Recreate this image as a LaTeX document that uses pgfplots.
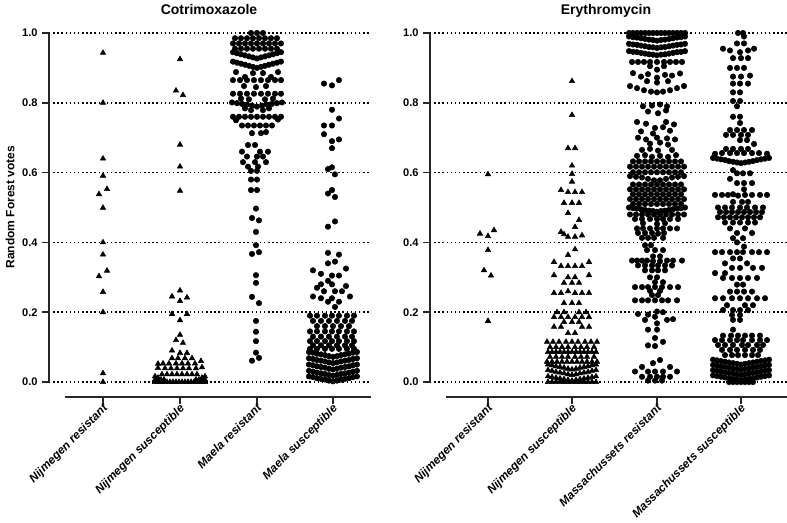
\documentclass[border=0pt]{standalone}
\usepackage{pgfplots}
\pgfplotsset{compat=1.18}
\usepackage{fontspec}
\setmainfont{Liberation Sans}
\pgfplotsset{
 swarm/.style={
  scale only axis, height=273pt, anchor=south west,
  ymin=-0.043, ymax=1, clip=false,
  axis lines*=left, axis line style={draw=none},
  ytick={0,0.2,0.4,0.6,0.8,1},
  yticklabel style={font=\bfseries\fontsize{8.3}{9}\selectfont, /pgf/number format/.cd, fixed, fixed zerofill, precision=1, assume math mode=true},
  xticklabel style={font=\bfseries\itshape\fontsize{8.8}{10}\selectfont, rotate=45, anchor=north east, inner sep=1pt, yshift=2pt, xshift=1pt},
  tick style={line width=1.1pt, black!85},
  major tick length=5pt,
  tick align=outside,
  ymajorgrids, major grid style={line width=1.1pt, dotted, black},
 },
 tri/.style={only marks, mark=triangle*, mark size=2.35pt, black, mark options={solid}},
 dot/.style={only marks, mark=*, mark size=2.05pt, black, mark options={solid}},
}
\begin{document}
\begin{tikzpicture}[x=0.75pt,y=0.75pt]
\useasboundingbox (0,0) rectangle (787,522);
% ---------------- Left panel ----------------
\begin{axis}[swarm, at={(36.75pt,93.75pt)}, width=241.7pt, xmin=49, xmax=371.3,
  xtick={103,180,257,333},
  xticklabels={Nijmegen resistant, Nijmegen susceptible, Maela resistant, Maela susceptible}]
\draw[line width=1.6pt, black!85] (axis cs:49,0) -- (axis cs:49,1);
\draw[line width=1.6pt, black!85] (axis cs:65,-0.043) -- (axis cs:371.3,-0.043);
% Nijmegen resistant
\addplot[tri] coordinates {(103,0.943)(103,0.800)(103,0.640)(103,0.591)(99,0.538)(107,0.553)(103,0.499)(103,0.400)(103,0.365)(107,0.319)(99,0.303)(103,0.258)(103,0.200)(103,0.025)(103,0.000)};
% Nijmegen susceptible
\addplot[tri] coordinates {(180,0.925)(176,0.835)(183,0.822)(180,0.680)(180,0.617)(180,0.548)
(180,0.262)(172,0.245)(187,0.242)(180,0.232)(172,0.195)(187,0.195)(180,0.177)(180,0.135)(176,0.120)(183,0.112)(172,0.090)(180,0.083)(187,0.083)
(172,0.068)(178,0.068)(185,0.068)(192,0.068)(201,0.060)
(158,0.052)(163,0.053)(169,0.053)(176,0.053)(182,0.053)(188,0.053)(195,0.053)
(158,0.040)(165,0.039)(171,0.039)(177,0.039)(183,0.039)(189,0.039)(196,0.039)(202,0.042)
(162,0.022)(167,0.022)(172,0.022)(177,0.022)(182,0.022)(187,0.022)(192,0.022)(197,0.022)
(155,0.016)(158,0.012)(202,0.012)(205,0.016)
(155,0.007)(158,0.007)(161,0.007)(164,0.007)(196,0.007)(199,0.007)(202,0.007)(205,0.007)
(155,0)(158,0)(161,0)(164,0)(167,0)(170,0)(173,0)(176,0)(179,0)(182,0)(185,0)(188,0)(191,0)(194,0)(197,0)(200,0)(203,0)(205,0)};
% Maela resistant
\addplot[dot] coordinates {(251,1.0)(257,1.0)(263,1.0)
(235,0.985)(241,0.985)(247,0.985)(253,0.985)(259,0.985)(265,0.985)(271,0.985)(277,0.985)
(233,0.970)(239,0.970)(245,0.970)(251,0.970)(257,0.970)(263,0.970)(269,0.970)(275,0.970)(281,0.970)
(235,0.955)(241,0.955)(247,0.955)(253,0.955)(259,0.955)(265,0.955)(271,0.955)(277,0.955)
(233,0.945)(237,0.942)(241,0.939)(245,0.936)(249,0.933)(253,0.930)(257,0.927)(261,0.930)(265,0.933)(269,0.936)(273,0.939)(277,0.942)(281,0.945)
(233,0.918)(237,0.915)(241,0.912)(245,0.909)(249,0.906)(253,0.903)(257,0.900)(261,0.903)(265,0.906)(269,0.909)(273,0.912)(277,0.915)(281,0.918)
(236,0.888)(245,0.874)(253,0.885)(263,0.885)(271,0.874)(278,0.888)
(233,0.865)(240,0.865)(247,0.865)(254,0.865)(261,0.865)(268,0.865)(275,0.865)(281,0.865)
(244,0.848)(256,0.845)(266,0.848)
(233,0.826)(240,0.826)(247,0.826)(254,0.826)(261,0.826)(268,0.826)(275,0.826)(281,0.826)
(241,0.812)(249,0.810)(265,0.810)(273,0.812)
(232,0.801)(237,0.799)(242,0.797)(247,0.795)(252,0.792)(257,0.789)(262,0.792)(267,0.795)(272,0.797)(277,0.799)(282,0.801)
(245,0.784)(251,0.779)(263,0.779)(269,0.784)
(233,0.760)(239,0.760)(245,0.760)(251,0.760)(257,0.760)(263,0.760)(269,0.760)(275,0.760)(281,0.760)
(236,0.750)(278,0.752)
(242,0.735)(248,0.735)(254,0.735)(260,0.735)(266,0.735)(272,0.735)
(252,0.713)(261,0.713)(266,0.716)
(248,0.679)(255,0.679)
(242,0.660)(260,0.660)(268,0.660)
(247,0.646)(257,0.646)(263,0.646)
(243,0.630)(255,0.630)(266,0.630)
(248,0.617)(258,0.617)
(251,0.605)(257,0.605)
(251,0.580)(257,0.580)
(251,0.550)(257,0.550)
(256,0.497)(252,0.470)(259,0.463)(256,0.430)(256,0.392)(252,0.367)(259,0.372)
(256,0.306)(256,0.284)(252,0.244)(259,0.226)(256,0.175)(256,0.144)(256,0.117)(256,0.084)(252,0.061)(259,0.069)};
% Maela susceptible
\addplot[dot] coordinates {(339,0.865)(324,0.855)(332,0.850)(332,0.780)(339,0.755)(324,0.735)(332,0.735)(324,0.710)(339,0.695)(332,0.690)(332,0.670)
(332,0.615)(328,0.610)(335,0.595)(332,0.550)(328,0.540)(335,0.530)(335,0.460)(328,0.445)
(328,0.370)(339,0.365)(335,0.345)(328,0.340)(346,0.325)(313,0.320)(321,0.310)(332,0.305)(339,0.305)
(328,0.290)(321,0.280)(332,0.280)(346,0.275)(317,0.270)(324,0.260)(335,0.260)(342,0.260)
(313,0.245)(350,0.245)(321,0.240)(332,0.240)(328,0.230)(339,0.230)(335,0.215)
(310,0.190)(317,0.190)(325,0.190)(332,0.190)(339,0.190)(347,0.190)(354,0.190)
(313,0.175)(321,0.175)(329,0.175)(337,0.175)(345,0.175)(352,0.175)
(317,0.160)(325,0.160)(333,0.160)(341,0.160)(349,0.160)
(310,0.145)(317,0.145)(325,0.145)(332,0.145)(339,0.145)(347,0.145)(354,0.145)
(313,0.130)(321,0.130)(329,0.130)(337,0.130)(345,0.130)(352,0.130)
(310,0.117)(317,0.117)(325,0.117)(332,0.117)(339,0.117)(347,0.117)(354,0.117)
(313,0.105)(321,0.105)(329,0.105)(337,0.105)(345,0.105)(352,0.105)
(310,0.095)(317,0.095)(325,0.095)(332,0.095)(339,0.095)(347,0.095)(354,0.095)
(309,0.086)(313,0.084)(317,0.081)(321,0.079)(325,0.077)(329,0.074)(333,0.072)(337,0.074)(341,0.077)(345,0.079)(349,0.081)(353,0.084)(357,0.086)
(309,0.068)(313,0.066)(317,0.063)(321,0.061)(325,0.059)(329,0.056)(333,0.054)(337,0.056)(341,0.059)(345,0.061)(349,0.063)(353,0.066)(357,0.068)
(309,0.050)(313,0.048)(317,0.045)(321,0.043)(325,0.041)(329,0.038)(333,0.036)(337,0.038)(341,0.041)(345,0.043)(349,0.045)(353,0.048)(357,0.050)
(309,0.032)(313,0.030)(317,0.027)(321,0.025)(325,0.023)(329,0.020)(333,0.018)(337,0.020)(341,0.023)(345,0.025)(349,0.027)(353,0.030)(357,0.032)
(309,0.016)(313,0.014)(317,0.011)(321,0.009)(325,0.007)(329,0.004)(333,0.002)(337,0.004)(341,0.007)(345,0.009)(349,0.011)(353,0.014)(357,0.016)};
\end{axis}
% ---------------- Right panel ----------------
\begin{axis}[swarm, at={(322.5pt,93.75pt)}, width=267.75pt, xmin=430, xmax=787,
  xtick={488,572,657,741},
  xticklabels={Nijmegen resistant, Nijmegen susceptible, Massachussets resistant, Massachussets susceptible}]
\draw[line width=1.6pt, black!85] (axis cs:430,0) -- (axis cs:430,1);
\draw[line width=1.6pt, black!85] (axis cs:446,-0.043) -- (axis cs:787,-0.043);
% Nijmegen resistant
\addplot[tri] coordinates {(488,0.595)(494,0.435)(480,0.425)(488,0.418)(488,0.378)(484,0.320)(491,0.305)(488,0.175)};
% Nijmegen susceptible
\addplot[tri] coordinates {(572,0.862)(572,0.765)(568,0.670)(575,0.670)(572,0.620)(572,0.596)(572,0.574)
(561,0.550)(568,0.544)(575,0.544)(582,0.544)(564,0.513)(572,0.513)(579,0.513)(568,0.484)(579,0.464)(575,0.444)
(561,0.430)(564,0.423)(568,0.416)(575,0.416)(582,0.420)(575,0.380)(568,0.364)
(554,0.344)(589,0.344)(561,0.332)(568,0.332)(575,0.332)(582,0.332)
(554,0.306)(589,0.306)(568,0.300)(575,0.300)(564,0.284)(572,0.284)(579,0.284)
(554,0.255)(561,0.255)(568,0.260)(575,0.255)(582,0.255)(589,0.255)
(564,0.226)(572,0.226)(579,0.226)(557,0.200)(564,0.200)(579,0.200)(586,0.200)
(554,0.186)(561,0.186)(568,0.186)(575,0.186)(582,0.186)(589,0.186)
(564,0.172)(572,0.172)(579,0.172)(554,0.158)(561,0.158)(582,0.158)(589,0.158)(568,0.140)(575,0.140)
(547,0.115)(553,0.115)(559,0.115)(566,0.115)(572,0.115)(578,0.115)(585,0.115)(591,0.115)(597,0.115)
(550,0.100)(556,0.100)(562,0.100)(568,0.100)(575,0.100)(581,0.100)(587,0.100)(594,0.100)
(548,0.086)(552,0.086)(556,0.086)(560,0.086)(564,0.086)(568,0.086)(572,0.086)(576,0.086)(580,0.086)(584,0.086)(588,0.086)(592,0.086)(596,0.086)
(550,0.072)(556,0.072)(562,0.072)(568,0.072)(575,0.072)(581,0.072)(587,0.072)(594,0.072)
(547,0.058)(552,0.058)(557,0.058)(562,0.058)(567,0.058)(572,0.058)(577,0.058)(582,0.058)(587,0.058)(592,0.058)(597,0.058)
(548,0.050)(552,0.048)(556,0.045)(560,0.043)(564,0.041)(568,0.038)(572,0.036)(576,0.038)(580,0.041)(584,0.043)(588,0.045)(592,0.048)(596,0.050)
(548,0.034)(552,0.032)(556,0.029)(560,0.027)(564,0.025)(568,0.022)(572,0.020)(576,0.022)(580,0.025)(584,0.027)(588,0.029)(592,0.032)(596,0.034)
(548,0.016)(552,0.014)(556,0.012)(560,0.010)(564,0.008)(568,0.006)(572,0.004)(576,0.006)(580,0.008)(584,0.010)(588,0.012)(592,0.014)(596,0.016)
(548,0)(552,0)(556,0)(560,0)(564,0)(568,0)(572,0)(576,0)(580,0)(584,0)(588,0)(592,0)(596,0)};
% Massachussets resistant
\addplot[dot] coordinates {
(629,1)(633,1)(637,1)(641,1)(645,1)(649,1)(653,1)(657,1)(661,1)(665,1)(669,1)(673,1)(677,1)(681,1)(685,1)
(629,0.990)(633,0.988)(637,0.987)(641,0.985)(645,0.983)(649,0.981)(653,0.980)(657,0.978)(661,0.980)(665,0.981)(669,0.983)(673,0.985)(677,0.987)(681,0.988)(685,0.990)
(629,0.969)(633,0.967)(637,0.966)(641,0.964)(645,0.962)(649,0.960)(653,0.959)(657,0.957)(661,0.959)(665,0.960)(669,0.962)(673,0.964)(677,0.966)(681,0.967)(685,0.969)
(629,0.948)(633,0.946)(637,0.945)(641,0.943)(645,0.941)(649,0.939)(653,0.938)(657,0.936)(661,0.938)(665,0.939)(669,0.941)(673,0.943)(677,0.945)(681,0.946)(685,0.948)
(632,0.917)(638,0.917)(644,0.917)(650,0.917)(657,0.917)(664,0.917)(670,0.917)(676,0.917)(682,0.917)
(650,0.905)(664,0.905)(657,0.895)
(633,0.885)(641,0.875)(648,0.882)(657,0.872)(665,0.880)(672,0.878)(680,0.884)
(647,0.862)(668,0.862)(657,0.858)
(630,0.848)(637,0.842)(644,0.836)(651,0.832)(657,0.830)(663,0.832)(670,0.836)(677,0.842)(684,0.848)
(643,0.790)(652,0.792)(660,0.795)(667,0.790)(648,0.775)(658,0.770)(666,0.778)
(637,0.745)(646,0.740)(666,0.745)(674,0.738)(655,0.728)(663,0.730)
(641,0.718)(653,0.712)(670,0.720)
(638,0.700)(646,0.695)(657,0.700)(667,0.698)(675,0.695)
(650,0.683)(660,0.686)(668,0.680)
(642,0.665)(650,0.668)(658,0.663)(672,0.665)
(637,0.648)(645,0.650)(652,0.645)(660,0.648)(668,0.645)(676,0.650)
(633,0.632)(639,0.632)(645,0.632)(651,0.632)(657,0.632)(663,0.632)(669,0.632)(675,0.632)(681,0.632)
(630,0.617)(636,0.617)(642,0.617)(648,0.617)(654,0.617)(660,0.617)(666,0.617)(672,0.617)(678,0.617)(684,0.617)
(633,0.601)(639,0.601)(645,0.601)(651,0.601)(657,0.601)(663,0.601)(669,0.601)(675,0.601)(681,0.601)
(630,0.590)(636,0.588)(642,0.586)(648,0.582)(654,0.578)(660,0.578)(666,0.582)(672,0.586)(678,0.588)(684,0.590)
(633,0.566)(639,0.566)(645,0.566)(651,0.566)(657,0.566)(663,0.566)(669,0.566)(675,0.566)(681,0.566)
(630,0.552)(636,0.552)(642,0.552)(648,0.552)(654,0.552)(660,0.552)(666,0.552)(672,0.552)(678,0.552)(684,0.552)
(633,0.538)(639,0.538)(645,0.538)(651,0.538)(657,0.538)(663,0.538)(669,0.538)(675,0.538)(681,0.538)
(630,0.524)(636,0.524)(642,0.524)(648,0.524)(654,0.524)(660,0.524)(666,0.524)(672,0.524)(678,0.524)(684,0.524)
(633,0.510)(639,0.510)(645,0.510)(651,0.510)(657,0.510)(663,0.510)(669,0.510)(675,0.510)(681,0.510)
(629,0.500)(633,0.498)(637,0.497)(641,0.495)(645,0.493)(649,0.491)(653,0.490)(657,0.488)(661,0.490)(665,0.491)(669,0.493)(673,0.495)(677,0.497)(681,0.498)(685,0.500)
(630,0.480)(636,0.480)(642,0.480)(648,0.480)(654,0.480)(660,0.480)(666,0.480)(672,0.480)(678,0.480)(684,0.480)
(635,0.467)(642,0.467)(650,0.467)(657,0.467)(663,0.467)(670,0.467)(678,0.467)
(643,0.455)(657,0.453)(665,0.455)
(637,0.440)(643,0.440)(650,0.440)(657,0.440)(663,0.440)(670,0.440)(677,0.440)
(638,0.427)(645,0.427)(652,0.427)(658,0.425)(664,0.427)
(642,0.413)(648,0.413)(654,0.413)(663,0.413)
(645,0.392)(651,0.392)(647,0.378)(655,0.378)(663,0.378)(653,0.360)(660,0.360)
(632,0.348)(637,0.348)(642,0.348)(647,0.348)(653,0.346)(660,0.346)(667,0.348)(673,0.348)(682,0.348)
(638,0.334)(645,0.334)(652,0.334)(658,0.334)(665,0.334)(672,0.334)
(645,0.320)(652,0.320)(658,0.320)(665,0.320)
(650,0.300)(657,0.300)(655,0.286)(663,0.286)
(635,0.272)(642,0.272)(648,0.272)(655,0.272)(662,0.272)(670,0.272)(678,0.272)
(650,0.261)(660,0.261)(652,0.249)(658,0.249)
(635,0.234)(642,0.234)(648,0.234)(655,0.234)(662,0.234)(668,0.234)(677,0.234)
(657,0.202)(663,0.200)(638,0.195)(648,0.193)(655,0.187)(645,0.178)(667,0.178)(673,0.180)(657,0.168)
(648,0.150)(657,0.150)(655,0.126)(663,0.115)(648,0.105)(655,0.103)
(660,0.063)(653,0.054)(642,0.043)(670,0.043)
(635,0.030)(648,0.030)(655,0.030)(663,0.030)(677,0.030)
(642,0.015)(650,0.015)(657,0.015)(663,0.015)(670,0.015)
(648,0.004)(655,0.004)(662,0.004)};
% Massachussets susceptible
\addplot[dot] coordinates {(738,1.0)(743,1.0)(744,0.990)(737,0.970)(744,0.970)
(723,0.955)(754,0.955)(730,0.950)(748,0.950)(740,0.945)
(733,0.928)(741,0.928)(748,0.928)(730,0.900)(737,0.900)(744,0.900)
(733,0.875)(741,0.875)(750,0.878)(733,0.855)(740,0.855)(748,0.855)
(733,0.830)(740,0.830)(733,0.805)(740,0.805)(737,0.790)
(733,0.760)(740,0.760)(740,0.742)
(730,0.722)(737,0.722)(744,0.722)(752,0.722)
(726,0.708)(733,0.708)(741,0.708)(748,0.708)
(740,0.693)(747,0.693)(754,0.682)
(726,0.668)(733,0.668)(741,0.668)(748,0.668)
(715,0.654)(722,0.656)(730,0.656)(737,0.656)(744,0.656)(752,0.656)(759,0.656)(767,0.654)
(713,0.642)(717,0.640)(721,0.638)(725,0.636)(729,0.633)(733,0.631)(737,0.629)(741,0.627)(745,0.629)(749,0.631)(753,0.633)(757,0.636)(761,0.638)(765,0.640)(769,0.642)
(733,0.607)(737,0.598)(743,0.598)(750,0.598)(730,0.582)(737,0.570)(744,0.570)(752,0.570)(744,0.552)
(715,0.536)(722,0.536)(728,0.536)(733,0.538)(738,0.534)(745,0.536)(752,0.536)(760,0.536)(767,0.536)
(733,0.516)(742,0.516)(748,0.516)
(718,0.500)(725,0.500)(732,0.500)(740,0.500)(747,0.500)(755,0.500)(763,0.500)
(720,0.487)(726,0.487)(732,0.487)(738,0.487)(744,0.487)(750,0.487)(756,0.487)(762,0.487)
(718,0.472)(724,0.472)(730,0.472)(736,0.472)(742,0.472)(748,0.472)(754,0.472)(760,0.472)
(725,0.457)(733,0.457)(740,0.457)(748,0.457)(755,0.457)
(730,0.440)(745,0.440)(737,0.427)(752,0.427)(733,0.412)(743,0.412)(737,0.400)(744,0.388)
(715,0.372)(722,0.372)(730,0.372)(737,0.372)(743,0.372)(752,0.372)(759,0.372)(767,0.372)
(733,0.354)(740,0.354)(725,0.340)(747,0.340)(732,0.327)(740,0.327)(753,0.327)(762,0.327)(715,0.312)(725,0.312)
(723,0.298)(732,0.298)(740,0.298)(748,0.298)(757,0.298)
(737,0.279)(743,0.279)
(730,0.259)(737,0.259)(744,0.259)(752,0.259)
(715,0.240)(723,0.240)(732,0.240)(740,0.240)(748,0.240)(757,0.240)(765,0.240)
(727,0.220)(745,0.220)(753,0.220)
(723,0.206)(733,0.206)(740,0.206)(748,0.206)
(732,0.192)(740,0.192)(733,0.178)(740,0.178)(733,0.150)
(723,0.133)(731,0.133)(738,0.133)(745,0.133)(752,0.133)(760,0.133)
(715,0.120)(722,0.120)(730,0.120)(737,0.120)(743,0.120)(752,0.120)(760,0.120)(767,0.120)
(718,0.106)(725,0.106)(733,0.106)(742,0.106)(748,0.106)(757,0.106)(763,0.106)
(722,0.092)(730,0.092)(737,0.092)(745,0.092)(753,0.092)(760,0.092)
(725,0.077)(732,0.077)(738,0.077)(745,0.077)(752,0.077)(758,0.077)
(713,0.064)(717,0.062)(721,0.060)(725,0.058)(729,0.056)(733,0.054)(737,0.052)(741,0.050)(745,0.052)(749,0.054)(753,0.056)(757,0.058)(761,0.060)(765,0.062)(769,0.064)
(713,0.049)(717,0.047)(721,0.045)(725,0.043)(729,0.041)(733,0.039)(737,0.037)(741,0.035)(745,0.037)(749,0.039)(753,0.041)(757,0.043)(761,0.045)(765,0.047)(769,0.049)
(713,0.034)(717,0.032)(721,0.030)(725,0.028)(729,0.026)(733,0.024)(737,0.022)(741,0.020)(745,0.022)(749,0.024)(753,0.026)(757,0.028)(761,0.030)(765,0.032)(769,0.034)
(713,0.019)(717,0.017)(721,0.015)(725,0.013)(729,0.011)(733,0.009)(737,0.007)(741,0.005)(745,0.007)(749,0.009)(753,0.011)(757,0.013)(761,0.015)(765,0.017)(769,0.019)
(729,0)(733,0)(737,0)(741,0)(745,0)(749,0)(753,0)};
\end{axis}
% titles and y label
\node[anchor=base, font=\bfseries\fontsize{10.5}{12}\selectfont] at (209,507) {Cotrimoxazole};
\node[anchor=base, font=\bfseries\fontsize{10.5}{12}\selectfont] at (606,507) {Erythromycin};
\node[rotate=90, font=\bfseries\fontsize{9}{10}\selectfont] at (10,315) {Random Forest votes};
\end{tikzpicture}
\end{document}
